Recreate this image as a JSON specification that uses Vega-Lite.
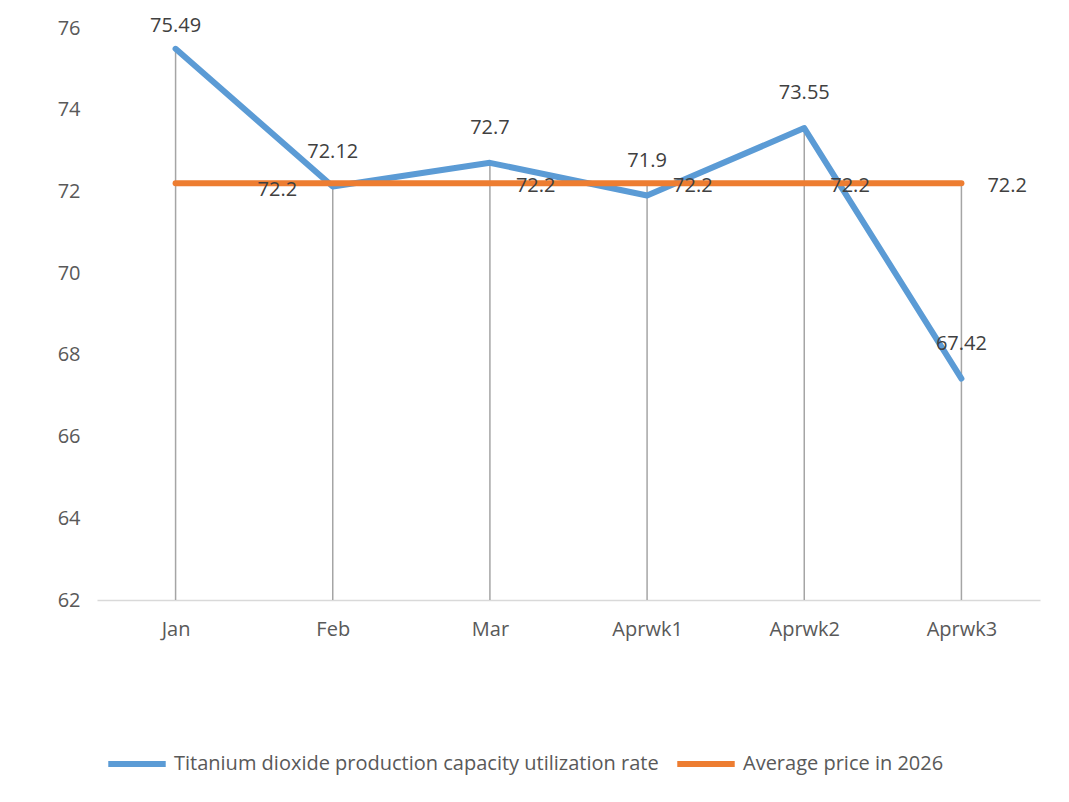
{
  "$schema": "https://vega.github.io/schema/vega-lite/v6.json",
  "autosize": "none",
  "width": 943,
  "height": 572,
  "padding": {"left": 97, "top": 28, "right": 29, "bottom": 202},
  "background": "white",
  "config": {
    "view": {"stroke": null},
    "font": "Open Sans",
    "text": {"font": "Open Sans"}
  },
  "data": {
    "values": [
      {"cat": "Jan", "series": "Titanium dioxide production capacity utilization rate", "value": 75.49},
      {"cat": "Feb", "series": "Titanium dioxide production capacity utilization rate", "value": 72.12},
      {"cat": "Mar", "series": "Titanium dioxide production capacity utilization rate", "value": 72.7},
      {"cat": "Aprwk1", "series": "Titanium dioxide production capacity utilization rate", "value": 71.9},
      {"cat": "Aprwk2", "series": "Titanium dioxide production capacity utilization rate", "value": 73.55},
      {"cat": "Aprwk3", "series": "Titanium dioxide production capacity utilization rate", "value": 67.42},
      {"cat": "Jan", "series": "Average price in 2026", "value": 72.2},
      {"cat": "Feb", "series": "Average price in 2026", "value": 72.2},
      {"cat": "Mar", "series": "Average price in 2026", "value": 72.2},
      {"cat": "Aprwk1", "series": "Average price in 2026", "value": 72.2},
      {"cat": "Aprwk2", "series": "Average price in 2026", "value": 72.2},
      {"cat": "Aprwk3", "series": "Average price in 2026", "value": 72.2}
    ]
  },
  "encoding": {
    "x": {
      "field": "cat",
      "type": "nominal",
      "sort": ["Jan", "Feb", "Mar", "Aprwk1", "Aprwk2", "Aprwk3"],
      "scale": {"type": "point", "padding": 0.5},
      "axis": {
        "title": null,
        "labelAngle": 0,
        "ticks": false,
        "domainColor": "#d9d9d9",
        "domainWidth": 1.5,
        "labelFontSize": 20,
        "labelColor": "#595959",
        "labelPadding": 19,
        "grid": false
      }
    }
  },
  "layer": [
    {
      "transform": [
        {"aggregate": [{"op": "max", "field": "value", "as": "top"}], "groupby": ["cat"]}
      ],
      "mark": {"type": "rule", "color": "#a5a5a5", "strokeWidth": 1.5},
      "encoding": {
        "y": {"field": "top", "type": "quantitative"},
        "y2": {"datum": 62}
      }
    },
    {
      "mark": {"type": "line", "strokeWidth": 6, "strokeCap": "round", "strokeJoin": "round"},
      "encoding": {
        "y": {
          "field": "value",
          "type": "quantitative",
          "scale": {"domain": [62, 76], "nice": false, "zero": false},
          "axis": {
            "title": null,
            "values": [62, 64, 66, 68, 70, 72, 74, 76],
            "domain": false,
            "ticks": false,
            "grid": false,
            "labelFontSize": 20,
            "labelColor": "#595959",
            "labelPadding": 17
          }
        },
        "color": {
          "field": "series",
          "type": "nominal",
          "scale": {
            "domain": ["Titanium dioxide production capacity utilization rate", "Average price in 2026"],
            "range": ["#5b9bd5", "#ed7d31"]
          },
          "legend": {
            "title": null,
            "orient": "none",
            "legendX": 8,
            "legendY": 704,
            "direction": "horizontal",
            "symbolType": "stroke",
            "symbolSize": 3300,
            "symbolStrokeWidth": 6,
            "labelFontSize": 20,
            "labelLimit": 0,
            "labelColor": "#595959",
            "labelOffset": 5,
            "columnPadding": 6
          }
        }
      }
    },
    {
      "transform": [
        {"filter": "datum.series == 'Titanium dioxide production capacity utilization rate' && datum.cat != 'Jan'"}
      ],
      "mark": {"type": "text", "dy": -35, "fontSize": 20, "color": "#404040"},
      "encoding": {
        "y": {"field": "value", "type": "quantitative"},
        "text": {"field": "value", "type": "nominal"}
      }
    },
    {
      "transform": [
        {"filter": "datum.series == 'Titanium dioxide production capacity utilization rate' && datum.cat == 'Jan'"}
      ],
      "mark": {"type": "text", "dy": -23, "fontSize": 20, "color": "#404040"},
      "encoding": {
        "y": {"field": "value", "type": "quantitative"},
        "text": {"field": "value", "type": "nominal"}
      }
    },
    {
      "transform": [
        {"filter": "datum.series == 'Average price in 2026' && datum.cat != 'Jan' && datum.cat != 'Feb'"}
      ],
      "mark": {"type": "text", "align": "left", "dx": 26, "dy": 3, "fontSize": 20, "color": "#404040"},
      "encoding": {
        "y": {"field": "value", "type": "quantitative"},
        "text": {"field": "value", "type": "nominal"}
      }
    },
    {
      "transform": [
        {"filter": "datum.series == 'Average price in 2026' && datum.cat == 'Jan'"}
      ],
      "mark": {"type": "text", "align": "left", "dx": 82, "dy": 7, "fontSize": 20, "color": "#404040"},
      "encoding": {
        "y": {"field": "value", "type": "quantitative"},
        "text": {"field": "value", "type": "nominal"}
      }
    }
  ]
}
